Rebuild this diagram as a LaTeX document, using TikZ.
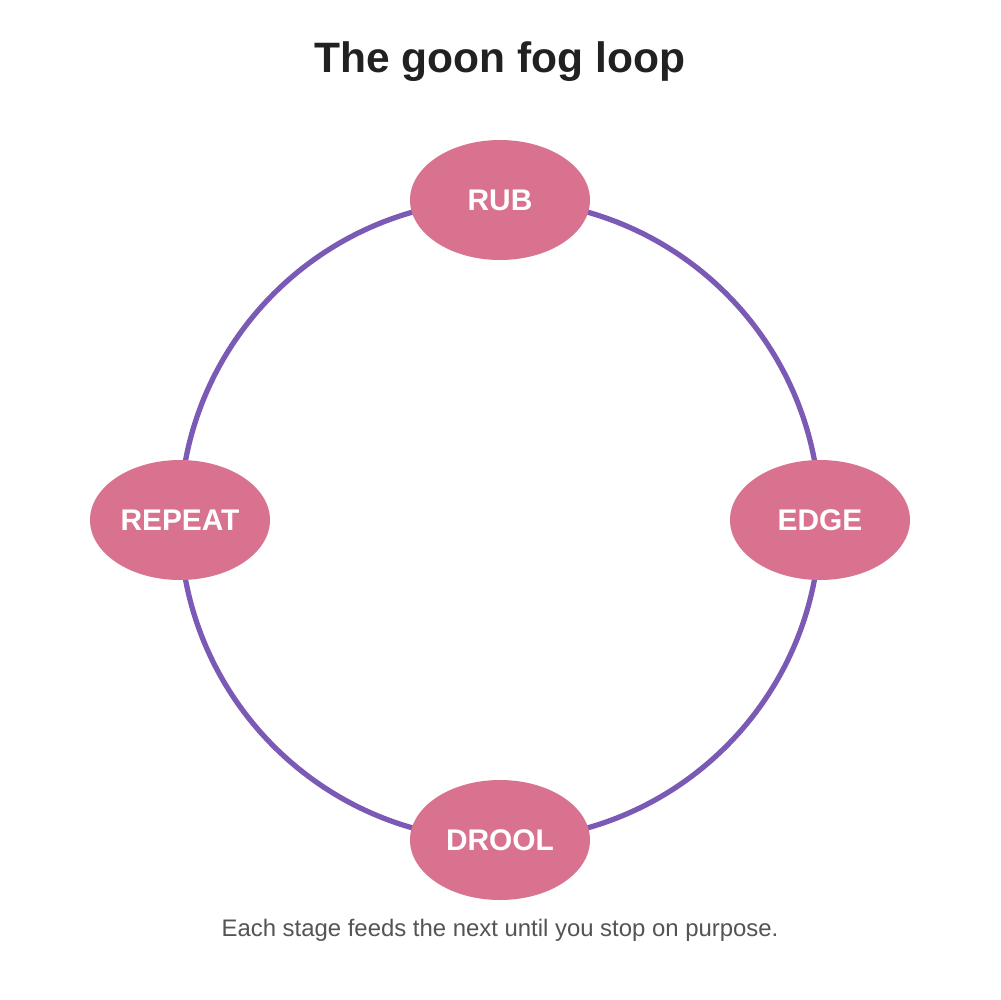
\documentclass[tikz,border=0pt]{standalone}
\usepackage{fontspec}
\setmainfont{Liberation Sans}
\usetikzlibrary{shapes.geometric}
\definecolor{ring}{HTML}{7B5AB5}
\definecolor{stage}{HTML}{D9728F}
\begin{document}
\begin{tikzpicture}[x=0.1mm,y=-0.1mm,
  stage/.style={ellipse,fill=stage,minimum width=18mm,minimum height=12mm,inner sep=0,text=white,font=\fontsize{8.5pt}{9pt}\selectfont\bfseries}]
\useasboundingbox (0,0) rectangle (1000,1000);
\fill[white] (0,0) rectangle (1000,1000);
\coordinate (c) at (500,520);
\draw[ring,line width=1.5pt] (c) circle[radius=32mm];
\node[stage] (rub) at (500,200) {RUB};
\node[stage] (edge) at (820,520) {EDGE};
\node[stage] (drool) at (500,840) {DROOL};
\node[stage] (repeat) at (180,520) {REPEAT};
\node[font=\fontsize{12.1pt}{14pt}\selectfont\bfseries,text=black!87] (title) at (500,62) {The goon fog loop};
\node[font=\fontsize{6.8pt}{8pt}\selectfont,text=black!67] (note) at (500,930) {Each stage feeds the next until you stop on purpose.};
\end{tikzpicture}
\end{document}
